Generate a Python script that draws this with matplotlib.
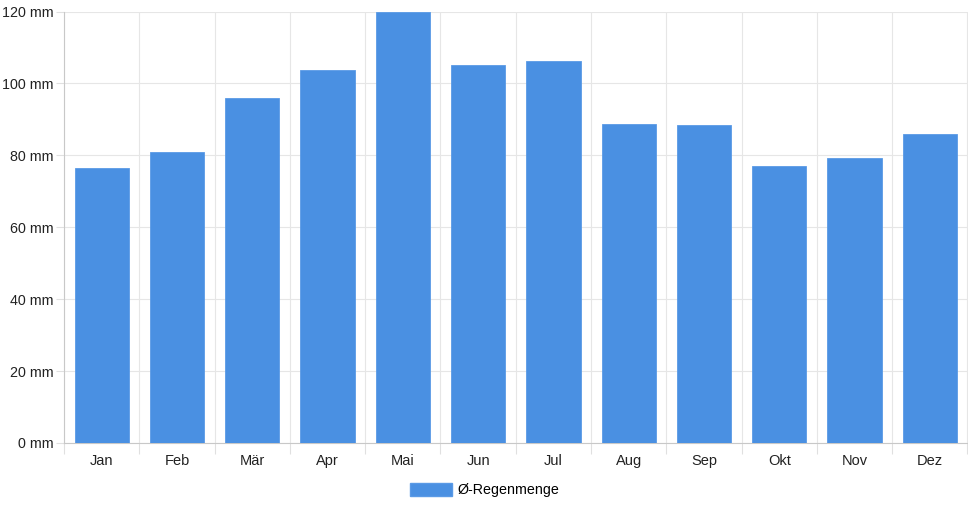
import matplotlib
matplotlib.use("Agg")
import matplotlib.pyplot as plt
from matplotlib.patches import Patch
import numpy as np

months = ["Jan", "Feb", "Mär", "Apr", "Mai", "Jun", "Jul", "Aug", "Sep", "Okt", "Nov", "Dez"]
rain = [76.6, 81.0, 96.0, 103.8, 120.0, 105.0, 106.1, 88.8, 88.5, 77.1, 79.3, 86.0]
yticks = [0, 20, 40, 60, 80, 100, 120]
series_label = "Ø-Regenmenge"

plt.rcParams['font.family'] = ['Liberation Sans', 'DejaVu Sans']

W, H = 968, 508
fig = plt.figure(figsize=(W / 100, H / 100), dpi=100)
ax = fig.add_axes([64 / W, (H - 443) / H, (967.5 - 64) / W, (443 - 11.5) / H])

x = np.arange(len(months))
color = "#4a90e2"
ax.bar(x, rain, width=0.72, color=color, edgecolor="#5a9ae6", linewidth=0.6, zorder=3)

ax.set_xlim(-0.5, len(months) - 0.5)
ax.set_ylim(0, 120)
ax.set_yticks(yticks)
ax.set_yticklabels([f"{v} mm" for v in yticks])
ax.set_xticks(x)
ax.set_xticklabels(months)

# grid
for b in np.arange(-0.5, len(months), 1.0):
    ax.axvline(b, color="#e6e6e6", lw=0.8, zorder=1)
for v in yticks:
    ax.axhline(v, color="#e6e6e6", lw=0.8, zorder=1)

# category boundary tick marks below axis
ax.set_xticks(np.arange(-0.5, len(months), 1.0), minor=True)
ax.tick_params(axis="x", which="major", length=0, pad=8, labelsize=10.5, colors="#222222")
ax.tick_params(axis="x", which="minor", length=8, color="#e0e0e0", width=0.8)
ax.tick_params(axis="y", which="major", length=6, color="#e0e0e0", width=0.8, pad=1.5,
               labelsize=10.3, labelcolor="#222222")

for s in ["top", "right"]:
    ax.spines[s].set_visible(False)
ax.spines["left"].set_color("#c8c8c8")
ax.spines["left"].set_linewidth(0.8)
ax.spines["bottom"].set_color("#c8c8c8")
ax.spines["bottom"].set_linewidth(0.8)

handle = Patch(facecolor=color, edgecolor="#5a9ae6", label=series_label)
fig.legend(handles=[handle], loc="center", bbox_to_anchor=(485 / W, (H - 490) / H),
           frameon=False, fontsize=10.3, handlelength=2.9, handleheight=1.1,
           handletextpad=0.45)

fig.savefig("out.png", dpi=100)
